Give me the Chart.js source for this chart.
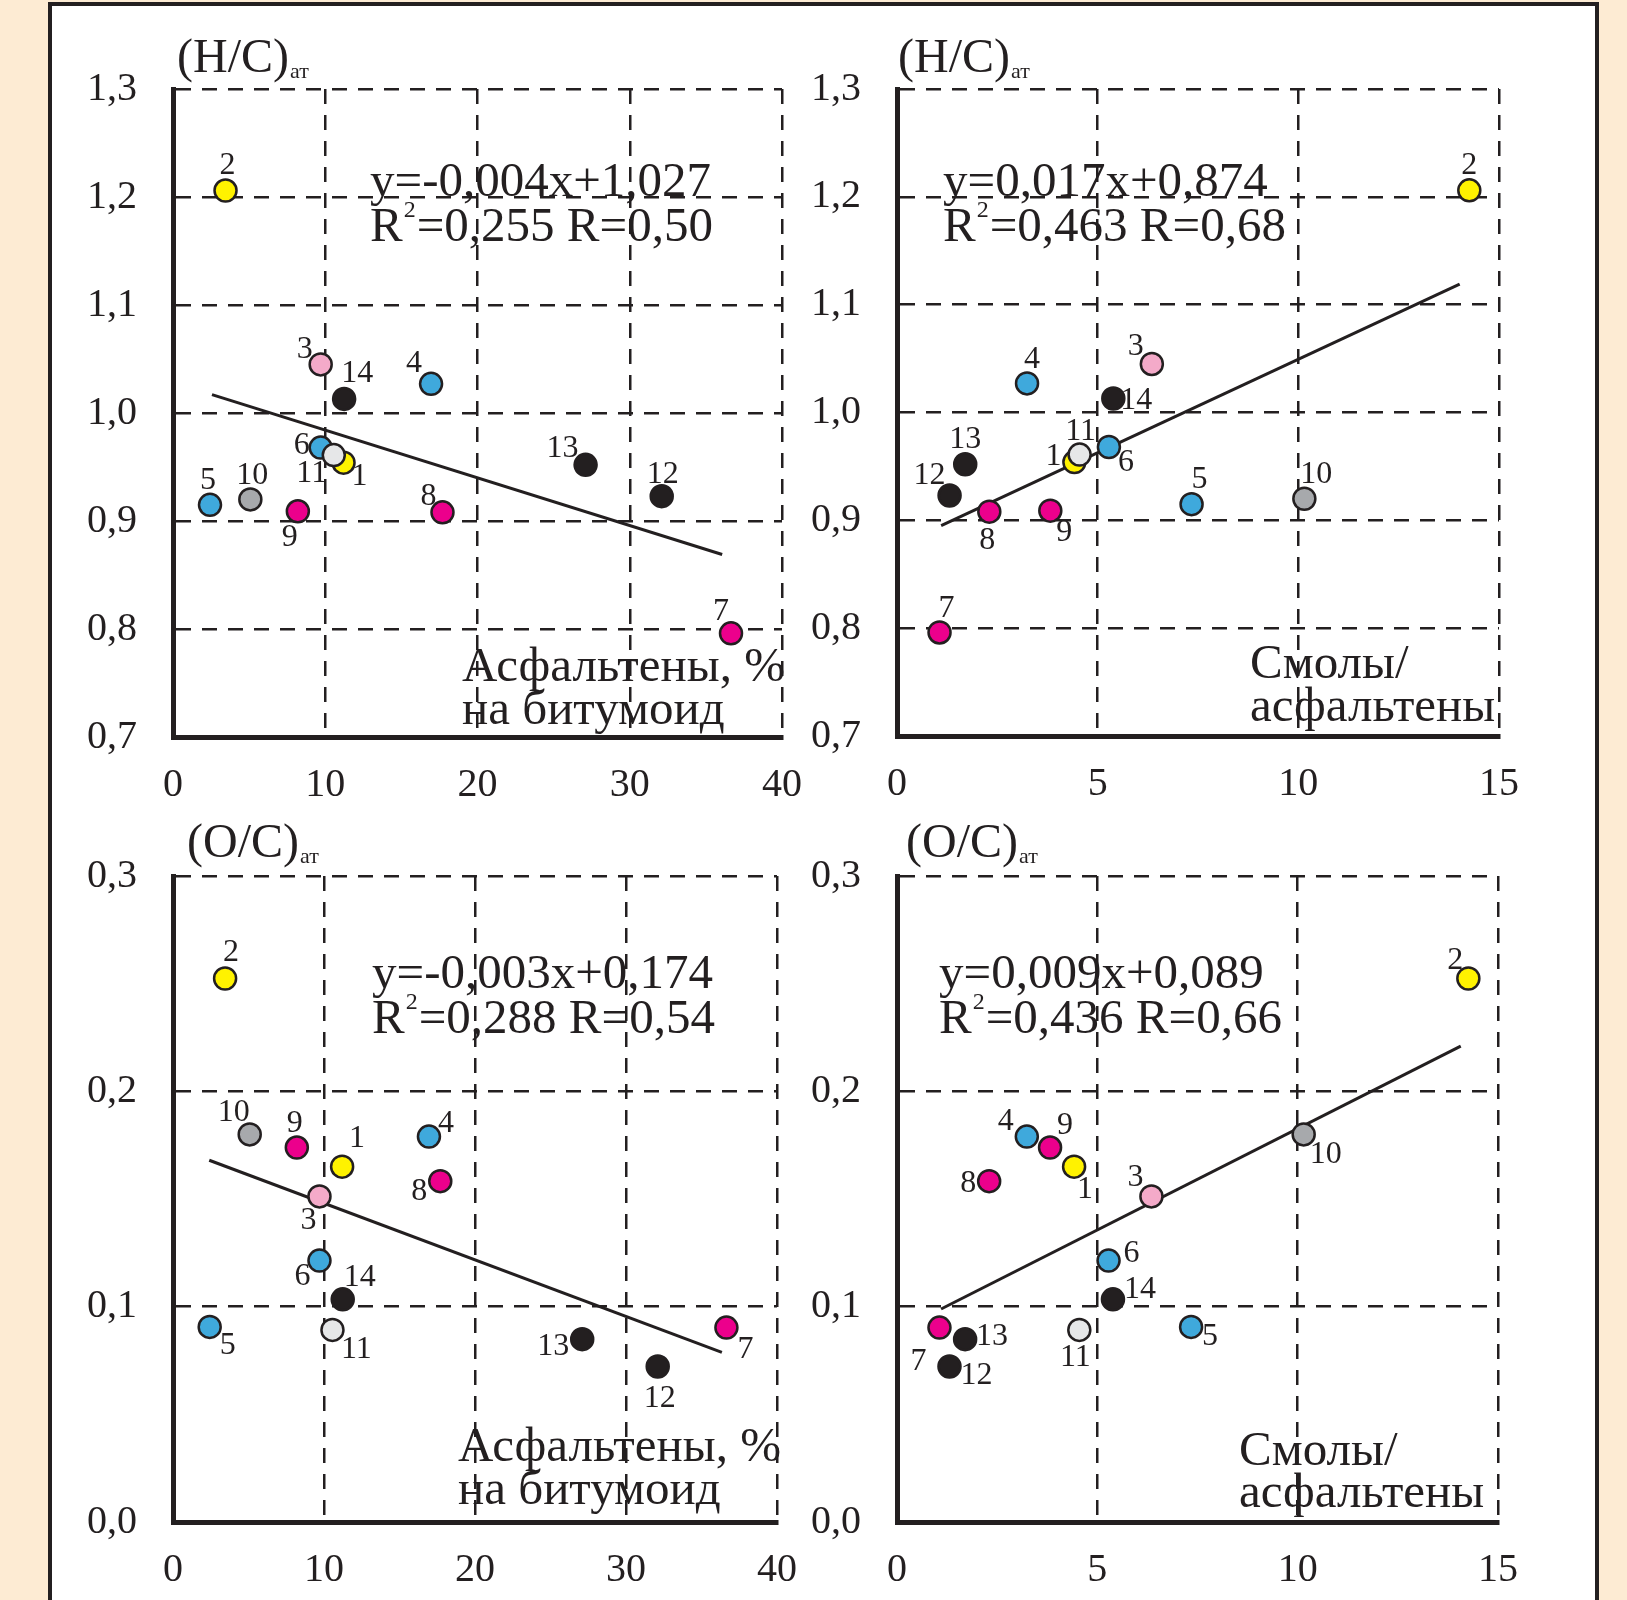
<!DOCTYPE html>
<html lang="ru">
<head>
<meta charset="utf-8">
<title>(H/C)ат и (O/C)ат битумоидов</title>
<script src="https://cdn.jsdelivr.net/npm/chart.js@4.4.0/dist/chart.umd.min.js"></script>
<style>
  html, body { margin: 0; padding: 0; }
  body { width: 1627px; height: 1600px; overflow: hidden; background: #fdebd3; position: relative; }
  .sheet { position: absolute; left: 48px; top: 2px; width: 1551px; height: 1700px;
           background: #fff; border: 4px solid #231f20; box-sizing: border-box; }
  canvas { position: absolute; }
</style>
</head>
<body>
<div class="sheet"></div>
<canvas id="p1"></canvas>
<canvas id="p2"></canvas>
<canvas id="p3"></canvas>
<canvas id="p4"></canvas>
<script>
// samples 1..14
const sampleIds = ['1', '2', '3', '4', '5', '6', '7', '8', '9', '10', '11', '12', '13', '14'];
const asphaltenes = [11.2, 3.45, 9.7, 16.95, 2.43, 9.7, 36.65, 17.7, 8.2, 5.08, 10.56, 32.1, 27.1, 11.24]; // % на битумоид
const resinsToAsph = [4.42, 14.26, 6.35, 3.24, 7.34, 5.28, 1.06, 2.3, 3.82, 10.15, 4.55, 1.31, 1.7, 5.39];
const hcAtomic = [0.954, 1.206, 1.045, 1.027, 0.915, 0.968, 0.796, 0.908, 0.909, 0.92, 0.961, 0.923, 0.952, 1.013];
const ocAtomic = [0.165, 0.2524, 0.1512, 0.179, 0.0906, 0.1214, 0.0903, 0.1583, 0.1739, 0.18, 0.0892, 0.0722, 0.0849, 0.1034];
const sampleColors = ['#fff200', '#fff200', '#f4aac9', '#3fa9dc', '#3fa9dc', '#3fa9dc', '#ec008c',
                      '#ec008c', '#ec008c', '#a7a9ac', '#e6e7e8', '#231f20', '#231f20', '#231f20'];

// trend lines (end points)
const fitAsphHCx = [2.56, 36.07];
const fitAsphHCy = [1.017, 0.869];
const fitRatioHCx = [1.1, 14.02];
const fitRatioHCy = [0.895, 1.119];
const fitAsphOCx = [2.4, 36.35];
const fitAsphOCy = [0.168, 0.0788];
const fitRatioOCx = [1.1, 14.07];
const fitRatioOCy = [0.0989, 0.221];

// tick labels
const asphTicks = [0, 10, 20, 30, 40];
const ratioTicks = [0, 5, 10, 15];
const hcTicks = [0.7, 0.8, 0.9, 1.0, 1.1, 1.2, 1.3];
const ocTicks = [0.0, 0.1, 0.2, 0.3];

const INK = '#231f20';
const SERIF = "'Liberation Serif', 'Times New Roman', serif";
Chart.defaults.font.family = SERIF;
Chart.defaults.color = INK;

// label offsets (px) of the sample numbers around each marker
const offsP1 = [[16, 14], [2, -25], [-16, -15], [-17, -20], [-2, -24], [-19, -2], [-10, -22],
                [-14, -16], [-8, 26], [2, -24], [-22, 18], [1, -22], [-23, -16], [13, -25]];
const offsP2 = [[-21, -6], [0, -25], [-16, -17], [5, -24], [8, -25], [17, 16], [7, -24],
                [-2, 29], [14, 22], [12, -24], [1, -23], [-20, -20], [0, -25], [23, 2]];
const offsP3 = [[15, -28], [6, -26], [-11, 24], [17, -13], [18, 19], [-17, 16], [19, 22],
                [-21, 10], [-2, -24], [-16, -22], [24, 20], [2, 32], [-29, 7], [17, -22]];
const offsP4 = [[11, 23], [-13, -18], [-16, -19], [-21, -15], [19, 10], [23, -7], [-21, 34],
                [-21, 2], [15, -22], [22, 20], [-4, 28], [27, 9], [27, -3], [27, -10]];

const ML = 130, MT = 90, MR = 60, MB = 90; // canvas margins around plot area

const panels = [
  { id: 'p1', area: [173, 89, 782, 737], xs: asphaltenes, ys: hcAtomic, xTicks: asphTicks, yTicks: hcTicks,
    fitX: fitAsphHCx, fitY: fitAsphHCy, offs: offsP1,
    eq: { line: 'y=-0,004x+1,027', r2: '0,255', r: '0,50', dx: 197, b1: 107, b2: 152 },
    title: { main: '(H/C)', dx: 4, b: -17 },
    xLabel: { lines: ['Асфальтены, %', 'на битумоид'], dx: 289, b1: 592, b2: 635 } },
  { id: 'p2', area: [897, 89, 1499, 736], xs: resinsToAsph, ys: hcAtomic, xTicks: ratioTicks, yTicks: hcTicks,
    fitX: fitRatioHCx, fitY: fitRatioHCy, offs: offsP2,
    eq: { line: 'y=0,017x+0,874', r2: '0,463', r: '0,68', dx: 46, b1: 107, b2: 152 },
    title: { main: '(H/C)', dx: 1, b: -17 },
    xLabel: { lines: ['Смолы/', 'асфальтены'], dx: 353, b1: 589, b2: 632 } },
  { id: 'p3', area: [173, 876, 777, 1522], xs: asphaltenes, ys: ocAtomic, xTicks: asphTicks, yTicks: ocTicks,
    fitX: fitAsphOCx, fitY: fitAsphOCy, offs: offsP3,
    eq: { line: 'y=-0,003x+0,174', r2: '0,288', r: '0,54', dx: 199, b1: 112, b2: 157 },
    title: { main: '(O/C)', dx: 14, b: -19 },
    xLabel: { lines: ['Асфальтены, %', 'на битумоид'], dx: 285, b1: 585, b2: 628 } },
  { id: 'p4', area: [897, 876, 1498, 1522], xs: resinsToAsph, ys: ocAtomic, xTicks: ratioTicks, yTicks: ocTicks,
    fitX: fitRatioOCx, fitY: fitRatioOCy, offs: offsP4,
    eq: { line: 'y=0,009x+0,089', r2: '0,436', r: '0,66', dx: 42, b1: 112, b2: 157 },
    title: { main: '(O/C)', dx: 9, b: -19 },
    xLabel: { lines: ['Смолы/', 'асфальтены'], dx: 342, b1: 589, b2: 631 } }
];

// sample numbers, equation, axis names
const panelText = {
  id: 'panelText',
  afterDatasetsDraw(chart, args, p) {
    const { ctx, chartArea } = chart;
    const left = chartArea.left, top = chartArea.top;
    ctx.save();
    ctx.fillStyle = INK;

    ctx.font = `32px ${SERIF}`;
    ctx.textAlign = 'center';
    ctx.textBaseline = 'middle';
    chart.getDatasetMeta(0).data.forEach((pt, i) => {
      ctx.fillText(sampleIds[i], pt.x + p.offs[i][0], pt.y + p.offs[i][1]);
    });

    ctx.textAlign = 'left';
    ctx.textBaseline = 'alphabetic';

    // regression equation
    const ex = left + p.eq.dx;
    ctx.font = `49px ${SERIF}`;
    ctx.fillText(p.eq.line, ex, top + p.eq.b1);
    ctx.fillText('R', ex, top + p.eq.b2);
    const wR = ctx.measureText('R').width;
    ctx.font = `24px ${SERIF}`;
    ctx.fillText('2', ex + wR + 1, top + p.eq.b2 - 24);
    const w2 = ctx.measureText('2').width;
    ctx.font = `49px ${SERIF}`;
    ctx.fillText('=' + p.eq.r2 + ' R=' + p.eq.r, ex + wR + w2 + 2, top + p.eq.b2);

    // x axis name inside the plot
    ctx.fillText(p.xLabel.lines[0], left + p.xLabel.dx, top + p.xLabel.b1);
    ctx.fillText(p.xLabel.lines[1], left + p.xLabel.dx, top + p.xLabel.b2);

    // y axis name above the plot
    ctx.font = `48px ${SERIF}`;
    ctx.fillText(p.title.main, left + p.title.dx, top + p.title.b);
    const wt = ctx.measureText(p.title.main).width;
    ctx.font = `22px ${SERIF}`;
    ctx.fillText('ат', left + p.title.dx + wt + 1, top + p.title.b + 6);
    ctx.restore();
  }
};

function axisOpts(ticks, fmt, fit) {
  return {
    type: 'linear',
    min: ticks[0],
    max: ticks[ticks.length - 1],
    afterBuildTicks: s => { s.ticks = ticks.map(v => ({ value: v })); },
    afterFit: fit,
    grid: { color: INK, lineWidth: 2.5, drawTicks: false },
    border: { display: true, color: INK, width: 5, dash: [15, 11] },
    ticks: { color: INK, font: { size: 40, family: SERIF }, callback: fmt }
  };
}

panels.forEach(p => {
  const [l, t, r, b] = p.area;
  const cv = document.getElementById(p.id);
  cv.width = (r - l) + ML + MR;
  cv.height = (b - t) + MT + MB;
  cv.style.left = (l - ML) + 'px';
  cv.style.top = (t - MT) + 'px';

  const xAxis = axisOpts(p.xTicks, v => String(v), s => { s.height = MB; });
  xAxis.ticks.padding = 24;
  const yAxis = axisOpts(p.yTicks, v => v.toFixed(1).replace('.', ','), s => { s.width = ML; });
  yAxis.ticks.padding = 36;

  new Chart(cv, {
    type: 'scatter',
    data: {
      datasets: [
        {
          data: p.xs.map((v, i) => ({ x: v, y: p.ys[i] })),
          pointRadius: 11,
          pointBackgroundColor: sampleColors,
          pointBorderColor: INK,
          pointBorderWidth: 2.5
        },
        {
          data: p.fitX.map((v, i) => ({ x: v, y: p.fitY[i] })),
          showLine: true,
          borderColor: INK,
          borderWidth: 3,
          pointRadius: 0
        }
      ]
    },
    options: {
      responsive: false,
      animation: false,
      events: [],
      layout: { padding: { left: 0, top: MT, right: MR, bottom: 0 } },
      plugins: { legend: { display: false }, tooltip: { enabled: false }, panelText: p },
      scales: { x: xAxis, y: yAxis }
    },
    plugins: [panelText]
  });
});
</script>
</body>
</html>
